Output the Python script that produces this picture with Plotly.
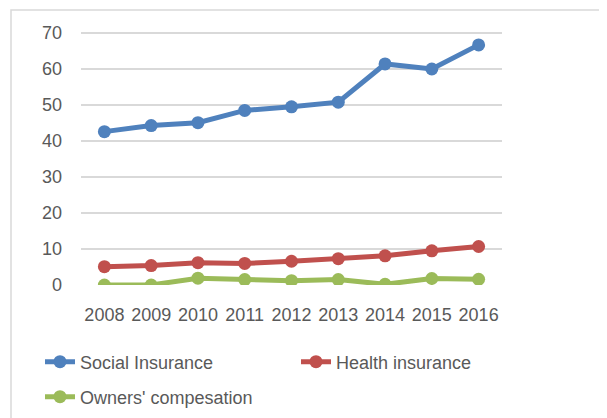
import plotly.graph_objects as go

years = ["2008", "2009", "2010", "2011", "2012", "2013", "2014", "2015", "2016"]
social_insurance = [42.6, 44.3, 45.1, 48.5, 49.5, 50.8, 61.4, 60.0, 66.7]
health_insurance = [5.1, 5.4, 6.2, 6.0, 6.6, 7.3, 8.1, 9.5, 10.7]
owners_compensation = [0.0, 0.0, 1.9, 1.5, 1.2, 1.5, 0.2, 1.8, 1.6]
y_ticks = [0, 10, 20, 30, 40, 50, 60, 70]

series = [
    ("Social Insurance", social_insurance, "#4F81BD", "legend"),
    ("Health insurance", health_insurance, "#C0504D", "legend2"),
    ("Owners' compesation", owners_compensation, "#9BBB59", "legend3"),
]

fig = go.Figure()
for name, vals, col, leg in series:
    fig.add_trace(go.Scatter(
        x=years, y=vals, name=name, mode="lines+markers",
        line=dict(color=col, width=5),
        marker=dict(color=col, size=13),
        legend=leg,
    ))

# the page body has an 8px margin, so the figure is drawn 8px smaller
W, H = 599, 410
L, T, PW, PH = 73, 24, 421, 253
R, B = W - L - PW, H - T - PH


def px_x(x):
    return (x - L) / PW


def px_y(y):
    return (T + PH - y) / PH


font = "Liberation Sans, Arial, sans-serif"
leg_common = dict(orientation="h", xanchor="left", yanchor="middle",
                  font=dict(size=18, color="#595959"), bgcolor="rgba(0,0,0,0)")
fig.update_layout(
    width=W, height=H,
    margin=dict(l=L, r=R, t=T, b=B, autoexpand=False),
    paper_bgcolor="white", plot_bgcolor="white",
    font=dict(family=font, size=18, color="#595959"),
    showlegend=True,
    legend=dict(x=px_x(32), y=px_y(354), **leg_common),
    legend2=dict(x=px_x(288), y=px_y(354), **leg_common),
    legend3=dict(x=px_x(32), y=px_y(389), **leg_common),
    xaxis=dict(type="category", range=[-0.5, 8.5], showgrid=False, zeroline=False,
               showline=False, ticks="", ticklabelstandoff=17, fixedrange=True),
    yaxis=dict(range=[0, 70.28], tickvals=y_ticks, showgrid=True, gridcolor="#D9D9D9",
               gridwidth=1.5, zeroline=False, showline=False, ticks="",
               ticklabelstandoff=18, fixedrange=True),
    shapes=[dict(type="rect", xref="paper", yref="paper",
                 x0=px_x(3), x1=px_x(640), y0=px_y(460), y1=px_y(2),
                 line=dict(color="#D9D9D9", width=1.5), layer="below")],
)

fig.write_html("out.html")
